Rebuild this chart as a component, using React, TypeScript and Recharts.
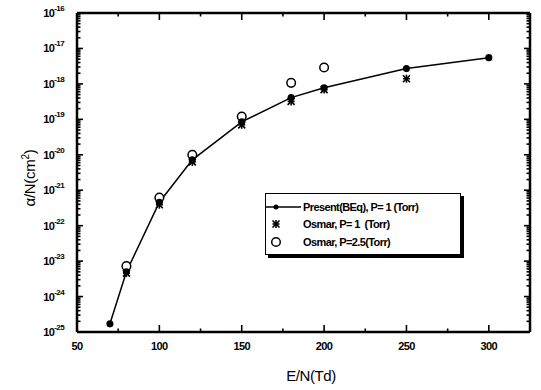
import React from "react";
import {
  ComposedChart,
  Line,
  Scatter,
  XAxis,
  YAxis,
  Legend,
} from "recharts";

// E/N (Td) and alpha/N (cm^2)
const presentE = [70, 80, 100, 120, 150, 180, 200, 250, 300];
const presentAlpha = [1.7e-25, 5.0e-24, 4.6e-22, 7.2e-21, 8.5e-20, 4.1e-19, 7.8e-19, 2.7e-18, 5.5e-18];

const osmar1E = [80, 100, 120, 150, 180, 200, 250];
const osmar1Alpha = [4.6e-24, 3.9e-22, 6.3e-21, 7.0e-20, 3.2e-19, 6.9e-19, 1.4e-18];

const osmar25E = [80, 100, 120, 150, 180, 200];
const osmar25Alpha = [7.2e-24, 6.2e-22, 1.0e-20, 1.2e-19, 1.07e-18, 2.9e-18];

const xTicks = [50, 75, 100, 125, 150, 175, 200, 225, 250, 275, 300, 325];
const xMajor = [50, 100, 150, 200, 250, 300];
const decades = [-25, -24, -23, -22, -21, -20, -19, -18, -17, -16];

const yTicks: number[] = [];
decades.forEach((d) => {
  if (d === -16) {
    yTicks.push(1e-16);
    return;
  }
  for (let m = 1; m <= 9; m++) yTicks.push(m * Math.pow(10, d));
});

const toRows = (xs: number[], ys: number[]) => xs.map((e, i) => ({ e, a: ys[i] }));
const presentData = toRows(presentE, presentAlpha);
const osmar1Data = toRows(osmar1E, osmar1Alpha);
const osmar25Data = toRows(osmar25E, osmar25Alpha);

const FONT = "'Liberation Sans', Arial, sans-serif";

const isDecade = (v: number) => {
  const l = Math.log10(v);
  return Math.abs(l - Math.round(l)) < 1e-6;
};

// ticks point inward, so the tick line is drawn back across the axis
function LeftTick(props: any) {
  const { x, y, payload } = props;
  const major = isDecade(payload.value);
  const ax = x + 7;
  return (
    <g>
      <line x1={ax} x2={ax + (major ? 6 : 3.5)} y1={y} y2={y} stroke="#000" strokeWidth={1.6} />
      {major && (
        <text x={x - 6} y={y + 4} textAnchor="end" fontFamily={FONT} fontWeight={700} fontSize={11} letterSpacing={-0.6} fill="#000">
          10
          <tspan dy={-6} fontSize={8}>
            {Math.round(Math.log10(payload.value))}
          </tspan>
        </text>
      )}
    </g>
  );
}

function RightTick(props: any) {
  const { x, y, payload } = props;
  const major = isDecade(payload.value);
  return <line x1={x} x2={x - (major ? 6 : 3.5)} y1={y} y2={y} stroke="#000" strokeWidth={1.6} />;
}

function BottomTick(props: any) {
  const { x, y, payload } = props;
  const major = xMajor.includes(payload.value);
  const ay = y - 8;
  return (
    <g>
      <line x1={x} x2={x} y1={ay} y2={ay - (major ? 7 : 3.5)} stroke="#000" strokeWidth={1.6} />
      {major && (
        <text x={x} y={y + 10} textAnchor="middle" fontFamily={FONT} fontWeight={700} fontSize={11} letterSpacing={-0.6} fill="#000">
          {payload.value}
        </text>
      )}
    </g>
  );
}

function TopTick(props: any) {
  const { x, y, payload } = props;
  const major = xMajor.includes(payload.value);
  return <line x1={x} x2={x} y1={y} y2={y + (major ? 7 : 3.5)} stroke="#000" strokeWidth={1.6} />;
}

function Asterisk(props: any) {
  const { cx, cy } = props;
  const s = 3.5;
  return (
    <g stroke="#000" strokeWidth={1.6}>
      <line x1={cx - s} y1={cy - s} x2={cx + s} y2={cy + s} />
      <line x1={cx - s} y1={cy + s} x2={cx + s} y2={cy - s} />
      <line x1={cx} y1={cy - s - 0.5} x2={cx} y2={cy + s + 0.5} />
      <line x1={cx - s} y1={cy} x2={cx + s} y2={cy} />
    </g>
  );
}

function OpenCircle(props: any) {
  const { cx, cy } = props;
  return <circle cx={cx} cy={cy} r={4.3} fill="#fff" stroke="#000" strokeWidth={1.5} />;
}

function LegendBox() {
  const row: React.CSSProperties = { display: "flex", alignItems: "center", height: 17.5 };
  const label: React.CSSProperties = {
    fontFamily: FONT,
    fontWeight: 700,
    fontSize: 11,
    letterSpacing: -0.6,
    marginLeft: 2,
    whiteSpace: "pre",
  };
  return (
    <div
      style={{
        width: 196,
        height: 62,
        border: "1.3px solid #000",
        boxShadow: "3px 3px 0 #000",
        background: "#fff",
        padding: "4px 0 0 0",
        boxSizing: "border-box",
      }}
    >
      <div style={row}>
        <svg width={35} height={10}>
          <line x1={0} x2={35} y1={5} y2={5} stroke="#000" strokeWidth={1.3} />
          <circle cx={10} cy={5} r={2.5} fill="#000" />
        </svg>
        <span style={label}>Present(BEq), P= 1 (Torr)</span>
      </div>
      <div style={row}>
        <svg width={35} height={10}>
          <Asterisk cx={10} cy={5} />
        </svg>
        <span style={label}>Osmar, P= 1  (Torr)</span>
      </div>
      <div style={row}>
        <svg width={35} height={12}>
          <OpenCircle cx={10} cy={6} />
        </svg>
        <span style={label}>Osmar, P=2.5(Torr)</span>
      </div>
    </div>
  );
}

export default function App() {
  return (
    <div style={{ position: "absolute", left: 0, top: 0, width: 541, height: 390, background: "#fff" }}>
      <ComposedChart width={541} height={390} margin={{ top: 12, right: 10, bottom: 28, left: 17 }}>
        <XAxis
          xAxisId="bottom"
          dataKey="e"
          type="number"
          domain={[50, 325]}
          ticks={xTicks}
          interval={0}
          tickSize={0}
          tickMargin={8}
          height={30}
          tickLine={false}
          axisLine={{ stroke: "#000", strokeWidth: 2.5 }}
          tick={<BottomTick />}
          allowDataOverflow
        />
        <XAxis
          xAxisId="top"
          orientation="top"
          dataKey="e"
          type="number"
          domain={[50, 325]}
          ticks={xTicks}
          interval={0}
          tickSize={0}
          tickMargin={0}
          height={1}
          tickLine={false}
          axisLine={{ stroke: "#000", strokeWidth: 2.5 }}
          tick={<TopTick />}
          allowDataOverflow
        />
        <YAxis
          yAxisId="left"
          dataKey="a"
          type="number"
          scale="log"
          domain={[1e-25, 1e-16]}
          ticks={yTicks}
          interval={0}
          tickSize={0}
          tickMargin={7}
          width={60}
          tickLine={false}
          axisLine={{ stroke: "#000", strokeWidth: 2.5 }}
          tick={<LeftTick />}
          allowDataOverflow
        />
        <YAxis
          yAxisId="right"
          orientation="right"
          dataKey="a"
          type="number"
          scale="log"
          domain={[1e-25, 1e-16]}
          ticks={yTicks}
          interval={0}
          tickSize={0}
          tickMargin={0}
          width={1}
          tickLine={false}
          axisLine={{ stroke: "#000", strokeWidth: 2.5 }}
          tick={<RightTick />}
          allowDataOverflow
        />
        <Legend
          verticalAlign="middle"
          align="center"
          wrapperStyle={{ position: "absolute", left: 265, top: 193, width: 200 }}
          content={() => <LegendBox />}
        />
        {/* invisible copy so the mirrored top/right axes get drawn */}
        <Line
          xAxisId="top"
          yAxisId="right"
          data={presentData}
          dataKey="a"
          stroke="none"
          dot={false}
          activeDot={false}
          legendType="none"
          isAnimationActive={false}
        />
        <Line
          xAxisId="bottom"
          yAxisId="left"
          data={presentData}
          dataKey="a"
          type="linear"
          stroke="#000"
          strokeWidth={1.5}
          dot={{ r: 2.8, fill: "#000", stroke: "#000" }}
          isAnimationActive={false}
        />
        <Scatter
          xAxisId="bottom"
          yAxisId="left"
          data={osmar25Data}
          dataKey="a"
          shape={<OpenCircle />}
          isAnimationActive={false}
        />
        <Scatter
          xAxisId="bottom"
          yAxisId="left"
          data={osmar1Data}
          dataKey="a"
          shape={<Asterisk />}
          isAnimationActive={false}
        />
      </ComposedChart>
      <div
        style={{
          position: "absolute",
          left: 311,
          top: 375,
          transform: "translate(-50%, -50%)",
          fontFamily: FONT,
          fontSize: 15,
          letterSpacing: -0.4,
          whiteSpace: "nowrap",
        }}
      >
        E/N(Td)
      </div>
      <div
        style={{
          position: "absolute",
          left: 29,
          top: 178,
          transform: "translate(-50%, -50%) rotate(-90deg)",
          fontFamily: FONT,
          fontSize: 15,
          letterSpacing: -0.3,
          whiteSpace: "nowrap",
        }}
      >
        α/N(cm<sup style={{ fontSize: 10 }}>2</sup>)
      </div>
    </div>
  );
}
